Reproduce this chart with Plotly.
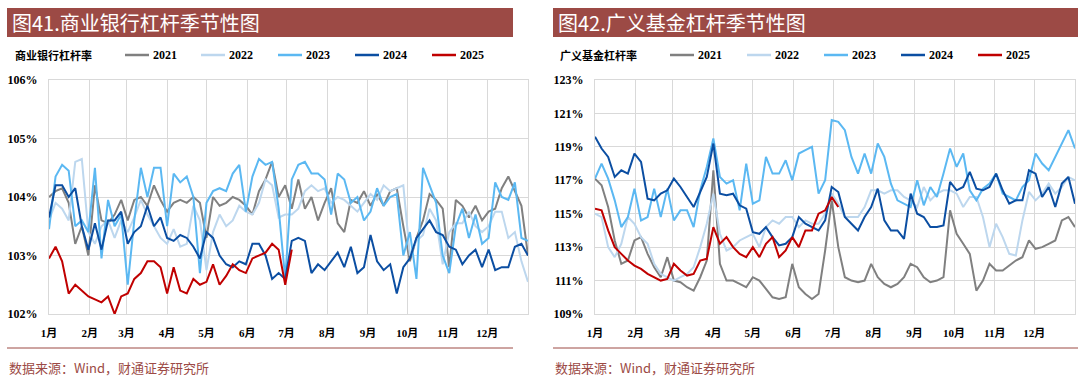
import plotly.graph_objects as go

# ---------------- data ----------------
months = ["1月", "2月", "3月", "4月", "5月", "6月", "7月", "8月", "9月", "10月", "11月", "12月"]
month_start_days = [0, 31, 59, 90, 120, 151, 181, 212, 243, 273, 304, 334]
years = ["2021", "2022", "2023", "2024", "2025"]
step_days = 5  # sampling interval of the values below (day-of-year)

# 商业银行杠杆率 (%)
bank_2021 = [104.0, 104.1, 104.15, 103.9, 103.2, 103.5, 103.0, 104.2, 103.6, 103.55, 103.7, 103.95, 103.6, 103.95,
             104.0, 103.85, 104.2, 103.95, 103.75, 103.9, 103.95, 103.9, 104.0, 103.9, 103.3, 104.0, 103.85, 103.9,
             104.0, 103.95, 103.85, 103.7, 104.1, 104.3, 104.6, 104.0, 104.2, 103.8,
             104.3, 103.8, 104.0, 103.6, 103.9, 104.15, 103.55, 103.4, 103.95, 103.9, 104.1, 103.85, 104.05, 103.85,
             104.1, 104.15, 103.5, 102.9, 103.3, 103.6, 104.05, 103.95, 103.8, 102.8, 103.95, 103.85, 103.65, 103.85,
             103.6, 103.75, 103.8, 104.15, 104.35, 104.1, 103.85, 103.0]
bank_2022 = [103.6, 103.9, 103.8, 103.6, 104.6, 104.65, 103.4, 103.2, 103.5, 103.6, 103.3, 103.6, 103.4, 103.65,
             103.95, 103.7, 103.5, 103.3, 103.2, 103.45, 103.15, 103.2, 103.85, 103.6, 102.75, 103.4, 103.7, 103.5,
             103.6, 103.85, 103.75, 103.7, 103.9, 104.3, 104.2, 103.65, 103.7, 103.7,
             103.8, 104.1, 104.2, 104.1, 104.15, 103.9, 104.0, 103.95, 103.85, 103.75, 103.9, 104.05, 103.95, 104.2,
             104.1, 104.15, 104.2, 103.0, 103.25, 103.35, 103.8, 103.6, 102.85, 103.4, 103.55, 103.55, 103.75, 103.5,
             103.4, 103.5, 103.75, 103.75, 103.3, 103.4, 102.9, 102.55]
bank_2023 = [103.45, 104.35, 104.55, 104.45, 103.5, 103.6, 103.4, 104.5, 102.95, 103.95, 103.5, 103.7, 102.5, 103.6,
             104.5, 104.0, 104.5, 104.5, 103.5, 104.4, 104.25, 104.35, 104.0, 102.7, 103.9, 104.1, 104.15, 104.1,
             104.4, 104.55, 103.75, 104.35, 104.65, 104.55, 104.6, 103.8, 102.6, 104.3,
             104.55, 104.6, 104.4, 104.4, 104.3, 103.7, 104.4, 104.3, 103.9, 104.0, 103.6, 103.75, 104.15, 103.85,
             104.0, 104.05, 103.0, 103.4, 102.6, 104.5, 104.2, 103.9, 103.0, 102.7, 103.5, 103.8, 103.3, 103.7,
             103.2, 103.3, 104.25, 104.0, 103.95, 104.25, 103.3, 103.25]
bank_2024 = [103.65, 104.2, 104.2, 104.0, 104.15, 103.5, 103.1, 103.55, 103.1, 103.6, 103.6, 103.75, 103.2, 103.4,
             103.5, 103.85, 103.5, 103.65, 103.3, 103.25, 103.35, 103.3, 103.15, 102.95, 103.4, 103.3, 103.0, 102.85,
             102.8, 102.9, 102.85, 103.2, 103.2, 103.0, 102.6, 102.7, 102.6, 103.25,
             103.3, 103.25, 102.7, 102.85, 102.75, 102.9, 103.05, 102.8, 103.15, 102.7, 102.8, 103.35, 102.9, 102.75,
             102.85, 102.35, 102.8, 102.95, 103.3, 103.45, 103.6, 103.4, 103.35, 103.15, 103.1, 102.85, 103.0, 103.1,
             102.8, 103.1, 102.75, 102.8, 102.8, 103.15, 103.2, 103.0]
bank_2025 = [102.95, 103.15, 102.9, 102.35, 102.5, 102.4, 102.3, 102.25, 102.2, 102.3, 102.0, 102.3, 102.35, 102.6,
             102.7, 102.9, 102.9, 102.8, 102.35, 102.8, 102.4, 102.35, 102.6, 102.5, 102.55, 102.85, 102.5, 102.65,
             102.85, 102.75, 102.7, 102.95, 103.0, 103.05, 103.2, 103.1, 102.5, 103.1]

# 广义基金杠杆率 (%)
fund_2021 = [117.1, 116.7, 115.4, 113.4, 112.0, 112.2, 113.4, 113.6, 112.6, 111.8, 111.2, 112.4, 111.0, 110.9,
             110.6, 110.4, 111.2, 112.2, 117.6, 112.0, 111.0, 111.0, 110.8, 110.6, 111.2,
             111.0, 110.5, 110.0, 109.9, 110.0, 112.0, 110.6, 110.2, 109.9, 110.2, 112.8, 115.8, 113.0, 111.2,
             111.0, 110.9, 111.0, 112.0, 111.2, 110.8, 110.6, 110.8, 111.2, 112.0, 111.8,
             111.2, 110.9, 111.0, 111.2, 115.2, 113.8, 113.2, 112.6, 110.4, 111.0, 112.0, 111.6, 111.6, 111.9,
             112.2, 112.4, 113.4, 112.9, 113.0, 113.2, 113.4, 114.6, 114.8, 114.2]
fund_2022 = [115.0, 114.8, 113.0, 112.4, 113.2, 114.8, 114.4, 113.6, 113.2, 112.0, 111.4, 111.2, 111.0, 111.2,
             111.4, 111.8, 113.0, 114.4, 116.2, 113.8, 112.8, 113.0, 113.4, 113.6, 113.8,
             113.0, 114.2, 114.6, 114.4, 114.8, 114.8, 114.2, 114.6, 114.4, 114.4, 115.0, 116.2, 115.6, 114.8,
             114.8, 114.8, 115.4, 116.4, 116.4, 116.2, 116.4, 116.4, 116.0, 115.8, 115.4,
             116.6, 115.8, 116.2, 116.4, 116.4, 116.2, 115.4, 116.0, 116.0, 114.8, 113.0, 114.4, 113.6, 112.6,
             112.5, 114.6, 116.3, 115.8, 116.2, 116.8, 116.2, 116.6, 117.2, 117.0]
fund_2023 = [117.1, 118.0, 117.1, 115.8, 114.2, 114.8, 116.5, 114.6, 114.8, 116.5, 114.8, 116.5, 114.6, 115.2,
             115.2, 114.2, 116.4, 117.8, 119.5, 117.2, 116.8, 117.0, 115.2, 118.0, 115.6,
             115.8, 118.4, 117.4, 117.4, 118.2, 117.0, 118.6, 118.8, 119.0, 116.2, 117.0, 120.6, 120.5, 120.0,
             118.4, 117.4, 118.6, 117.4, 119.2, 118.4, 116.8, 115.8, 115.6, 115.4, 117.0,
             115.5, 116.6, 116.0, 117.4, 118.9, 117.8, 118.6, 116.4, 115.8, 116.5, 116.8, 117.4, 116.2, 116.0,
             115.8, 116.6, 117.0, 118.6, 118.0, 117.6, 118.4, 119.2, 120.0, 118.9]
fund_2024 = [119.6, 118.9, 118.4, 117.2, 117.6, 117.4, 118.6, 118.1, 115.9, 115.8, 116.2, 116.4, 117.1, 116.6,
             116.0, 115.4, 116.3, 117.2, 119.2, 116.2, 116.1, 116.2, 115.5, 115.3, 113.9,
             113.8, 114.2, 113.6, 113.1, 113.2, 113.6, 114.8, 114.4, 114.2, 114.0, 114.6, 116.6, 116.3, 114.8,
             114.4, 114.0, 114.8, 115.4, 116.5, 114.6, 114.0, 114.0, 113.5, 116.2, 115.0,
             114.8, 114.2, 114.2, 114.3, 116.9, 116.4, 116.6, 117.5, 116.5, 116.4, 116.6, 117.4, 116.4, 115.6,
             115.8, 115.8, 117.6, 117.4, 116.0, 116.6, 115.4, 116.8, 117.2, 115.6]
fund_2025 = [115.3, 115.2, 114.0, 113.0, 112.6, 112.2, 111.9, 111.7, 111.4, 111.2, 111.0, 111.1, 112.0, 111.6,
             111.3, 111.4, 112.2, 112.3, 114.2, 113.2, 113.6, 113.0, 112.6, 112.4,
             113.0, 112.4, 113.2, 113.6, 112.4, 112.8, 113.6, 113.0, 114.0, 114.0, 115.0, 115.2, 116.0, 115.4]

bank_series = [bank_2021, bank_2022, bank_2023, bank_2024, bank_2025]
fund_series = [fund_2021, fund_2022, fund_2023, fund_2024, fund_2025]

# ---------------- style ----------------
W, H = 1080, 378
line_colors = ["#808080", "#BDD7EE", "#5BB8F2", "#0B4EA2", "#C00000"]
brand = "#9C4A45"
grid = "#D9D9D9"
cjk = "Noto Sans CJK SC"
serif = "Liberation Serif, Noto Sans CJK SC"


def px(x):
    return x / W


def py(y):
    return 1 - y / H


fig = go.Figure()

for series, xa, ya in [(bank_series, "x", "y"), (fund_series, "x2", "y2")]:
    for name, vals, col in zip(years, series, line_colors):
        fig.add_trace(go.Scatter(
            x=[i * step_days for i in range(len(vals))], y=vals, mode="lines", name=name,
            line=dict(color=col, width=2), xaxis=xa, yaxis=ya, showlegend=False,
        ))

xcommon = dict(range=[0, 365], tickvals=month_start_days, ticktext=months, showgrid=True, gridcolor=grid,
               gridwidth=1, showline=True, linecolor=grid, mirror=True, zeroline=False, ticks="",
               tickfont=dict(family=serif, size=11, color="#000000", weight="bold"), ticklabelstandoff=9,
               automargin=False)
ycommon = dict(showgrid=True, gridcolor=grid, gridwidth=1, showline=True, linecolor=grid, mirror=True,
               zeroline=False, ticks="", ticksuffix="%", automargin=False,
               tickfont=dict(family=serif, size=12, color="#000000", weight="bold"), ticklabelstandoff=8)

ydom = [py(314), py(80)]
fig.update_layout(
    width=W, height=H, autosize=False, margin=dict(l=0, r=0, t=0, b=0, pad=0),
    paper_bgcolor="white", plot_bgcolor="white", showlegend=False,
    xaxis=dict(domain=[px(49), px(528)], anchor="y", **xcommon),
    yaxis=dict(domain=ydom, anchor="x", range=[102, 106], tick0=102, dtick=1, **ycommon),
    xaxis2=dict(domain=[px(595), px(1075)], anchor="y2", **xcommon),
    yaxis2=dict(domain=ydom, anchor="x2", range=[109, 123], tick0=109, dtick=2, **ycommon),
)

shapes = []
annotations = []
panels = [
    dict(x0=7, x1=513, title="图41.商业银行杠杆季节性图", label="商业银行杠杆率", lab_x=13,
         leg_x=[125, 201, 278, 355, 432]),
    dict(x0=553, x1=1078, title="图42.广义基金杠杆季节性图", label="广义基金杠杆率", lab_x=558,
         leg_x=[670, 747, 824, 901, 978]),
]
for p in panels:
    shapes.append(dict(type="rect", xref="paper", yref="paper", x0=px(p["x0"]), x1=px(p["x1"]),
                       y0=py(37), y1=py(8), fillcolor=brand, line=dict(width=0), layer="below"))
    annotations.append(dict(x=px(p["x0"] + 3), y=py(22.5), xref="paper", yref="paper", text=p["title"],
                            showarrow=False, xanchor="left", yanchor="middle",
                            font=dict(family=cjk, size=20, color="white")))
    annotations.append(dict(x=px(p["lab_x"]), y=py(55), xref="paper", yref="paper", text=p["label"],
                            showarrow=False, xanchor="left", yanchor="middle",
                            font=dict(family=cjk, size=11, color="#000000", weight="bold")))
    for lx, name, col in zip(p["leg_x"], years, line_colors):
        shapes.append(dict(type="line", xref="paper", yref="paper", x0=px(lx), x1=px(lx + 24),
                           y0=py(55), y1=py(55), line=dict(color=col, width=2.5)))
        annotations.append(dict(x=px(lx + 26), y=py(55), xref="paper", yref="paper", text=name,
                                showarrow=False, xanchor="left", yanchor="middle",
                                font=dict(family=serif, size=12, color="#000000", weight="bold")))
    shapes.append(dict(type="line", xref="paper", yref="paper", x0=px(p["x0"]), x1=px(p["x1"]),
                       y0=py(348), y1=py(348), line=dict(color=brand, width=1)))
    annotations.append(dict(x=px(p["x0"]), y=py(367), xref="paper", yref="paper",
                            text="数据来源：Wind，财通证券研究所", showarrow=False, xanchor="left",
                            yanchor="middle", font=dict(family=cjk, size=13, color=brand)))

fig.update_layout(shapes=shapes, annotations=annotations)

# remove the default page margin so the 1080x378 figure sits exactly in the window
fig.write_html("out.html", config={"displayModeBar": False},
               post_script="document.body.style.margin='0';document.body.style.overflow='hidden';")
